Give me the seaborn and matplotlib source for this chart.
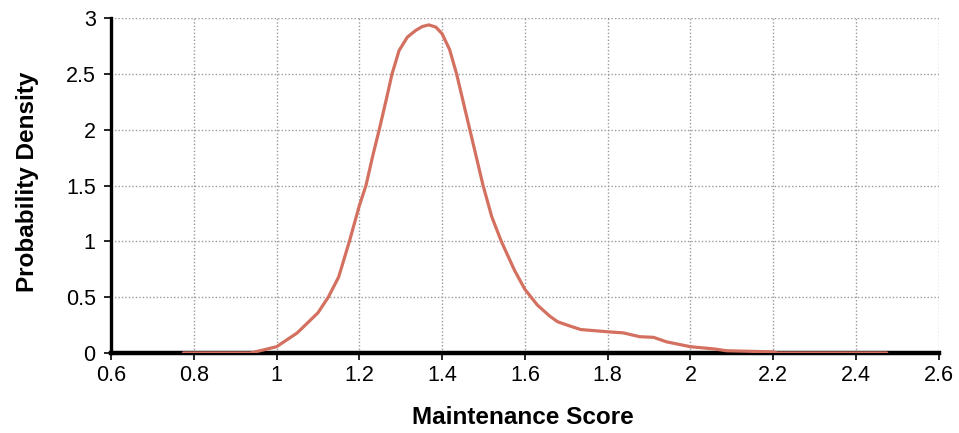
import matplotlib
matplotlib.use("Agg")
import matplotlib.pyplot as plt
from matplotlib.ticker import FuncFormatter
import seaborn as sns
import pandas as pd

# Estimated density of the maintenance score
score = [0.775, 0.90, 0.937, 0.968, 1.0, 1.05, 1.1, 1.125, 1.15, 1.176,
         1.2, 1.216, 1.232, 1.248, 1.265, 1.279, 1.296, 1.316, 1.336, 1.352,
         1.368, 1.385, 1.40, 1.418, 1.435, 1.467, 1.499, 1.52, 1.543, 1.575,
         1.6, 1.63, 1.66, 1.679, 1.71, 1.735, 1.80, 1.838, 1.877, 1.911,
         1.942, 2.0, 2.058, 2.087, 2.2, 2.21, 2.474]
density = [0.0, 0.0, 0.0, 0.027, 0.056, 0.18, 0.36, 0.5, 0.68, 1.0,
           1.32, 1.5, 1.76, 2.0, 2.27, 2.5, 2.71, 2.83, 2.89, 2.925,
           2.94, 2.92, 2.86, 2.72, 2.5, 2.0, 1.5, 1.22, 1.0, 0.74,
           0.57, 0.43, 0.33, 0.28, 0.24, 0.21, 0.19, 0.18, 0.146, 0.14,
           0.10, 0.056, 0.036, 0.02, 0.01, 0.0, 0.0]

x_ticks = [0.6, 0.8, 1.0, 1.2, 1.4, 1.6, 1.8, 2.0, 2.2, 2.4, 2.6]
y_ticks = [0, 0.5, 1, 1.5, 2, 2.5, 3]

df = pd.DataFrame({"Maintenance Score": score, "Probability Density": density})

sns.set_style("white")
plt.rcParams["font.family"] = ["Liberation Sans", "DejaVu Sans"]
plt.rcParams["text.color"] = "black"
plt.rcParams["axes.labelcolor"] = "black"
plt.rcParams["xtick.color"] = "black"
plt.rcParams["ytick.color"] = "black"

fig = plt.figure(figsize=(9.59, 4.33), dpi=100)
ax = fig.add_axes([0.1157, 0.1848, 0.979 - 0.1157, 0.958 - 0.1848])

sns.lineplot(data=df, x="Maintenance Score", y="Probability Density",
             color="#d4705f", linewidth=2.3, ax=ax, zorder=3)

ax.set_xlim(0.6, 2.6)
ax.set_ylim(0, 3)
ax.set_xticks(x_ticks)
ax.set_yticks(y_ticks)
fmt = FuncFormatter(lambda v, _: f"{v:g}")
ax.xaxis.set_major_formatter(fmt)
ax.yaxis.set_major_formatter(fmt)

ax.grid(True, linestyle=(0, (1, 1.5)), color="#9a9a9a", linewidth=1.0)
ax.set_axisbelow(True)

for side in ("top", "right"):
    ax.spines[side].set_visible(False)
ax.spines["left"].set_linewidth(2.4)
ax.spines["bottom"].set_linewidth(3.2)
ax.spines["left"].set_color("black")
ax.spines["bottom"].set_color("black")
ax.spines["bottom"].set_zorder(2)

ax.tick_params(axis="both", direction="out", length=5, width=1.2,
               color="black", labelcolor="black", labelsize=15.5,
               bottom=True, left=True)
ax.tick_params(axis="x", pad=4)
ax.tick_params(axis="y", pad=6)

ax.set_xlabel("Maintenance Score", fontsize=17.5, fontweight="bold",
              va="center")
ax.set_ylabel("Probability Density", fontsize=17.5, fontweight="bold",
              va="center")
ax.xaxis.set_label_coords(0.497, -0.194)
ax.yaxis.set_label_coords(-0.1014, 0.512)

fig.savefig("out.png", dpi=100)
